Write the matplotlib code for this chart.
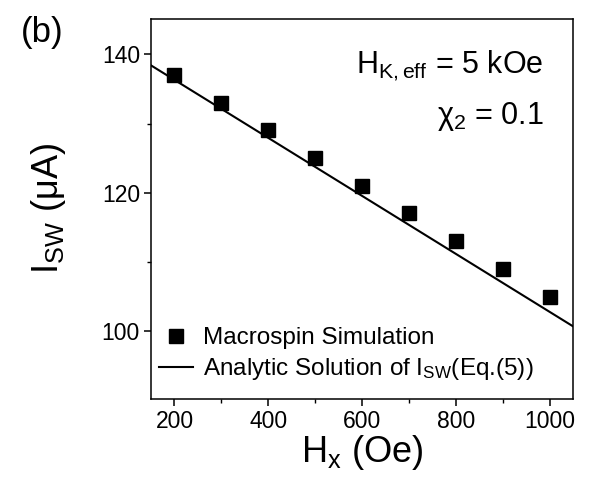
import matplotlib
matplotlib.use("Agg")
import matplotlib.pyplot as plt
from matplotlib.ticker import MultipleLocator

plt.rcParams["font.family"] = ["Liberation Sans", "DejaVu Sans"]
plt.rcParams["mathtext.fontset"] = "custom"
plt.rcParams["mathtext.rm"] = "Liberation Sans"
plt.rcParams["mathtext.it"] = "Liberation Sans"
plt.rcParams["mathtext.default"] = "regular"

# Macrospin simulation results
hx_sim = [200, 300, 400, 500, 600, 700, 800, 900, 1000]
isw_sim = [137, 133, 129, 125, 121, 117, 113, 109, 105]

# Analytic solution (Eq. 5), straight line across the field range
hx_analytic = [150, 1050]
isw_analytic = [138.4, 100.7]

x_ticks = [200, 400, 600, 800, 1000]
y_ticks = [100, 120, 140]

fig = plt.figure(figsize=(5.95, 4.95), dpi=100)
ax = fig.add_axes([0.2538, 0.194, 0.7092, 0.7676])

ax.plot(hx_analytic, isw_analytic, color="black", lw=1.5,
        label="Analytic Solution of I$_{SW}$(Eq.(5))")
ax.plot(hx_sim, isw_sim, "s", color="black", ms=9.5, ls="none",
        label="Macrospin Simulation")

ax.set_xlim(150, 1050)
ax.set_ylim(90.2, 145.1)
ax.set_xticks(x_ticks)
ax.set_yticks(y_ticks)
ax.xaxis.set_minor_locator(MultipleLocator(100))
ax.yaxis.set_minor_locator(MultipleLocator(10))
ax.tick_params(which="major", direction="out", length=5, width=1.1,
               labelsize=16.5, top=False, right=False, pad=3)
ax.tick_params(which="minor", direction="out", length=3, width=1.0,
               top=False, right=False)
for sp in ax.spines.values():
    sp.set_linewidth(1.1)

ax.set_xlabel("H$_x$ (Oe)", fontsize=26, labelpad=0)
ax.set_ylabel("I$_{SW}$ (μA)", fontsize=26, labelpad=24)

ax.text(0.93, 0.858, "H$_{K,eff}$ = 5 kOe", transform=ax.transAxes,
        ha="right", va="baseline", fontsize=22)
ax.text(0.93, 0.724, "χ$_2$ = 0.1", transform=ax.transAxes,
        ha="right", va="baseline", fontsize=22)

handles, labels = ax.get_legend_handles_labels()
ax.legend(handles[::-1], labels[::-1], loc="lower left",
          bbox_to_anchor=(-0.015, 0.005), frameon=False, fontsize=17.5,
          handlelength=1.4, handletextpad=0.4, labelspacing=0.3,
          borderaxespad=0.2)

fig.text(0.035, 0.935, "(b)", fontsize=25, ha="left", va="center")

fig.savefig("out.png", dpi=100)
